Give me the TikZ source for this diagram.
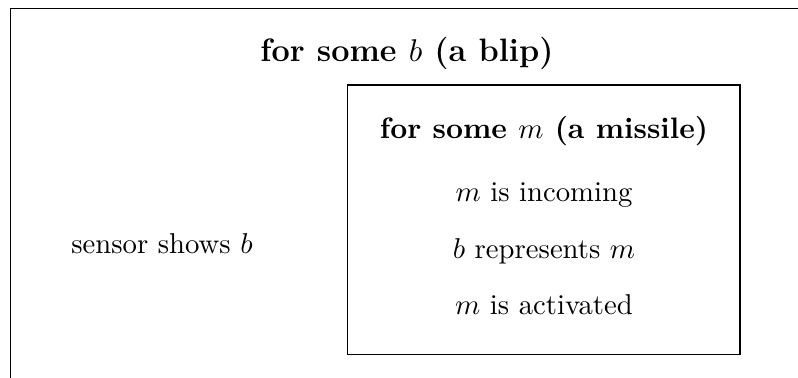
\documentclass[tikz,border=0pt]{standalone}
\begin{document}
\begin{tikzpicture}[x=0.3484pt,y=-0.3484pt,
  frame/.style={draw,line width=0.5pt},
  txt/.style={inner sep=0pt,anchor=base},
  title/.style={txt,font=\fontsize{10.3}{12.5}\selectfont\bfseries}]
\useasboundingbox (0,0) rectangle (798,377);
\clip (0,0) rectangle (798,377);
\draw[frame] (10.7,8.7) rectangle (830,400);
\draw[frame] (347.5,85) rectangle (740,354.5);
\node[title,font=\fontsize{11.3}{13.5}\selectfont\bfseries] (outer) at (407,61) {for some $b$ (a blip)};
\node[txt] (sensor) at (162,253) {sensor shows $b$};
\node[title] (inner) at (544,138.5) {for some $m$ (a missile)};
\node[txt] (inc) at (544,201) {$m$ is incoming};
\node[txt] (rep) at (544,258) {$b$ represents $m$};
\node[txt] (act) at (544,314) {$m$ is activated};
\end{tikzpicture}
\end{document}
